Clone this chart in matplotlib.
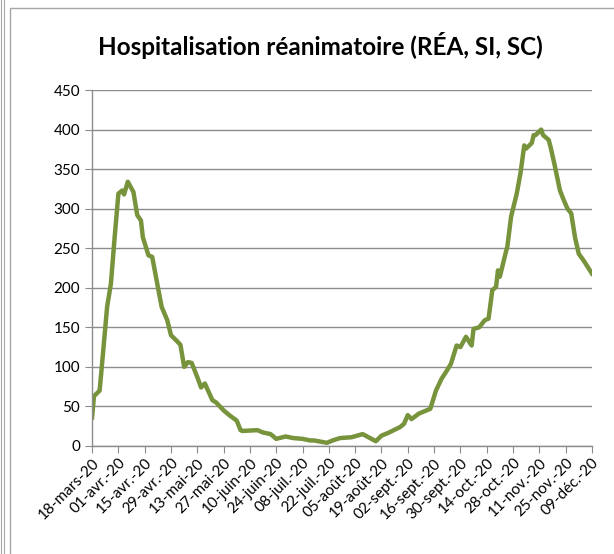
import matplotlib.pyplot as plt
import matplotlib.patches as patches
import numpy as np
import datetime as dt

# days after 18 March 2020, and number of patients
days = [0, 1, 4, 5, 8, 10, 12, 14, 16, 17, 19, 22, 24, 26, 27, 30, 32, 35, 37,
        40, 42, 45, 47, 49, 51, 53, 56, 58, 60, 64, 66, 70, 73, 77, 79, 80, 88,
        91, 95, 98, 103, 107, 112, 116, 118, 125, 128, 132, 138, 144, 151, 154,
        158, 164, 166, 168, 170, 174, 180, 183, 186, 189, 191, 194, 196, 199,
        202, 203, 206, 209, 211, 213, 215, 216, 217, 220, 221, 223, 226, 228,
        230, 231, 234, 235, 236, 239, 240, 243, 244, 246, 249, 251, 253, 255,
        257, 259, 262, 266]
values = [36, 63, 70, 96, 176, 205, 264, 319, 323, 318, 334, 321, 292, 285, 264,
          241, 239, 201, 176, 159, 140, 133, 128, 100, 106, 105, 87, 74, 79, 58,
          55, 45, 39, 32, 20, 19, 20, 17, 15, 9, 12, 10, 9, 7, 7, 4, 7, 10, 11,
          15, 6, 13, 17, 24, 28, 39, 34, 41, 47, 70, 85, 96, 104, 127, 125, 138,
          127, 148, 150, 159, 161, 197, 201, 222, 214, 243, 252, 290, 319, 345,
          380, 376, 383, 393, 393, 400, 393, 387, 378, 357, 323, 311, 300, 294,
          264, 243, 233, 218]

tick_labels = ["18-mars-20", "01-avr.-20", "15-avr.-20", "29-avr.-20", "13-mai-20",
               "27-mai-20", "10-juin-20", "24-juin-20", "08-juil.-20", "22-juil.-20",
               "05-août-20", "19-août-20", "02-sept.-20", "16-sept.-20", "30-sept.-20",
               "14-oct.-20", "28-oct.-20", "11-nov.-20", "25-nov.-20", "09-déc.-20"]

plt.rcParams['font.family'] = ['Lato', 'DejaVu Sans']

start = dt.date(2020, 3, 18)
dates = [start + dt.timedelta(days=d) for d in days]
tick_dates = [start + dt.timedelta(days=14 * i) for i in range(len(tick_labels))]

fig = plt.figure(figsize=(6.14, 5.54), dpi=100)
ax = fig.add_axes([0.150, 0.195, 0.814, 0.6425])

# chart frame
fig.patches.append(patches.Rectangle((10 / 614, -0.1), 1.1, 1 - 8 / 554 + 0.1,
                                     transform=fig.transFigure, fill=False,
                                     edgecolor='#a6a6a6', linewidth=1))
fig.patches.append(patches.Rectangle((1 / 614, -0.1), 3 / 614, 1.2,
                                     transform=fig.transFigure, fill=False,
                                     edgecolor='#a6a6a6', linewidth=0.8))

ax.plot(dates, values, color='#77933C', linewidth=3.2, solid_joinstyle='round')

ax.set_ylim(0, 450)
ax.set_yticks(range(0, 451, 50))
ax.set_xlim(start, start + dt.timedelta(days=266))
ax.set_xticks(tick_dates)
ax.set_xticklabels(tick_labels, rotation=45, ha='right', rotation_mode='anchor')
ax.grid(axis='y', color='#8c8c8c', linewidth=1)
ax.set_axisbelow(True)
for s in ['top', 'right']:
    ax.spines[s].set_visible(False)
for s in ['left', 'bottom']:
    ax.spines[s].set_color('#8c8c8c')
    ax.spines[s].set_linewidth(1)
ax.tick_params(axis='both', colors='#8c8c8c', length=5, labelcolor='black', labelsize=11)
ax.tick_params(axis='x', pad=2)

fig.text(0.522, 0.918, "Hospitalisation réanimatoire (RÉA, SI, SC)",
         ha='center', va='center', fontsize=17.5, fontweight='bold')

fig.savefig("out.png", dpi=100)
